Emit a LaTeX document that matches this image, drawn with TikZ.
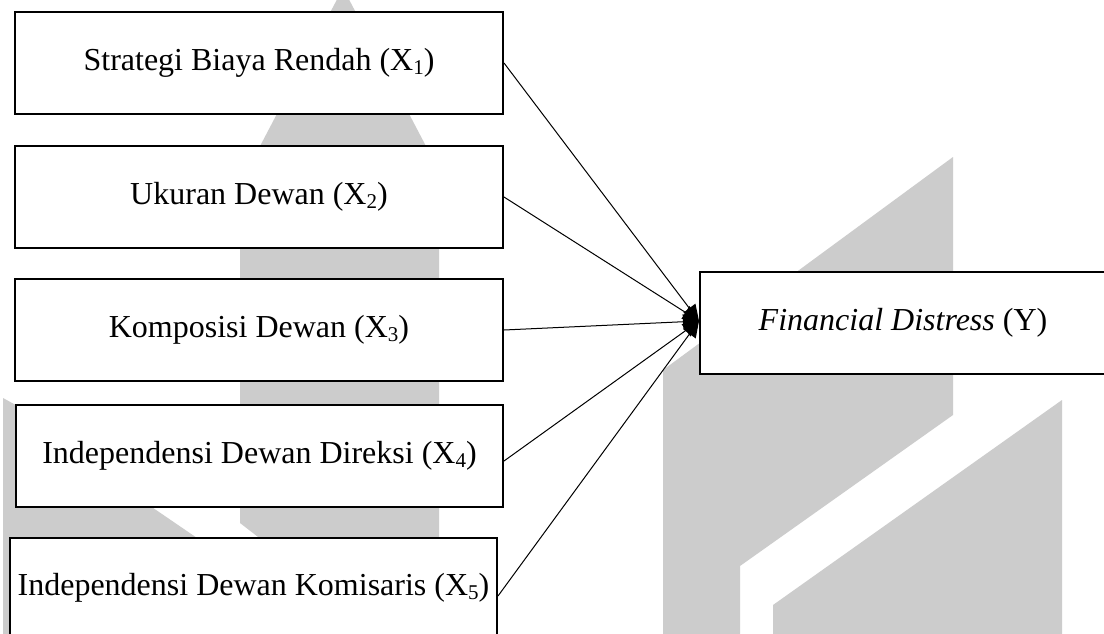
\documentclass[tikz,border=0pt]{standalone}
\usepackage{fontspec}
\setmainfont{Liberation Serif}
\usetikzlibrary{arrows.meta,calc}
\definecolor{wm}{RGB}{204,204,204}
\newcommand\subd[1]{\raisebox{-4pt}{\fontsize{21}{21}\selectfont #1}}
\begin{document}
\begin{tikzpicture}[x=1pt,y=-1pt,
  box/.style={draw,line width=2pt,fill=white,minimum height=102pt,inner sep=0pt,font=\fontsize{32}{38}\selectfont},
  link/.style={line width=1pt,-{Triangle[length=16pt,width=15pt]}}]
\useasboundingbox (0,0) rectangle (1104,633);
\begin{scope}
\clip (0,0) rectangle (1104,633);
\fill[white] (0,0) rectangle (1104,633);
% watermark
\fill[wm] (343,-12) -- (258,150) .. controls (248,170) and (240,200) .. (240,240) -- (240,523) -- (262,540) -- (439,540) -- (439,240) .. controls (439,200) and (431,170) .. (428,150) -- cycle;
\fill[wm] (3,640) -- (3,398) -- (140,473) -- (140,499) -- (200,540) -- (200,640) -- cycle;
\fill[wm] (663,640) -- (663,370) -- (953,157) -- (953,415) -- (740,566) -- (740,640) -- cycle;
\fill[wm] (773,640) -- (773,605) -- (1062,400) -- (1062,640) -- cycle;
% boxes
\node[box,minimum width=488pt] (b1) at (259,63) {Strategi Biaya Rendah (X\subd{1})};
\node[box,minimum width=488pt] (b2) at (259,197) {Ukuran Dewan (X\subd{2})};
\node[box,minimum width=488pt] (b3) at (259,330) {Komposisi Dewan (X\subd{3})};
\node[box,minimum width=487pt] (b4) at (259.5,456) {Independensi Dewan Direksi (X\subd{4})};
\node[box,minimum width=487pt,minimum height=100pt] (b5) at (253.5,588) {Independensi Dewan Komisaris (X\subd{5})};
\node[box,minimum width=406pt] (Y) at (903,323) {\textit{Financial Distress} (Y)};
\coordinate (tip) at ($(Y.west)+(0,-2)$);
% connectors
\draw[link] (b1.east) -- (tip);
\draw[link] (b2.east) -- (tip);
\draw[link] (b3.east) -- (tip);
\draw[link] ($(b4.east)+(0,5)$) -- (tip);
\draw[link] ($(b5.east)+(0,8)$) -- (tip);
\end{scope}
\end{tikzpicture}
\end{document}
